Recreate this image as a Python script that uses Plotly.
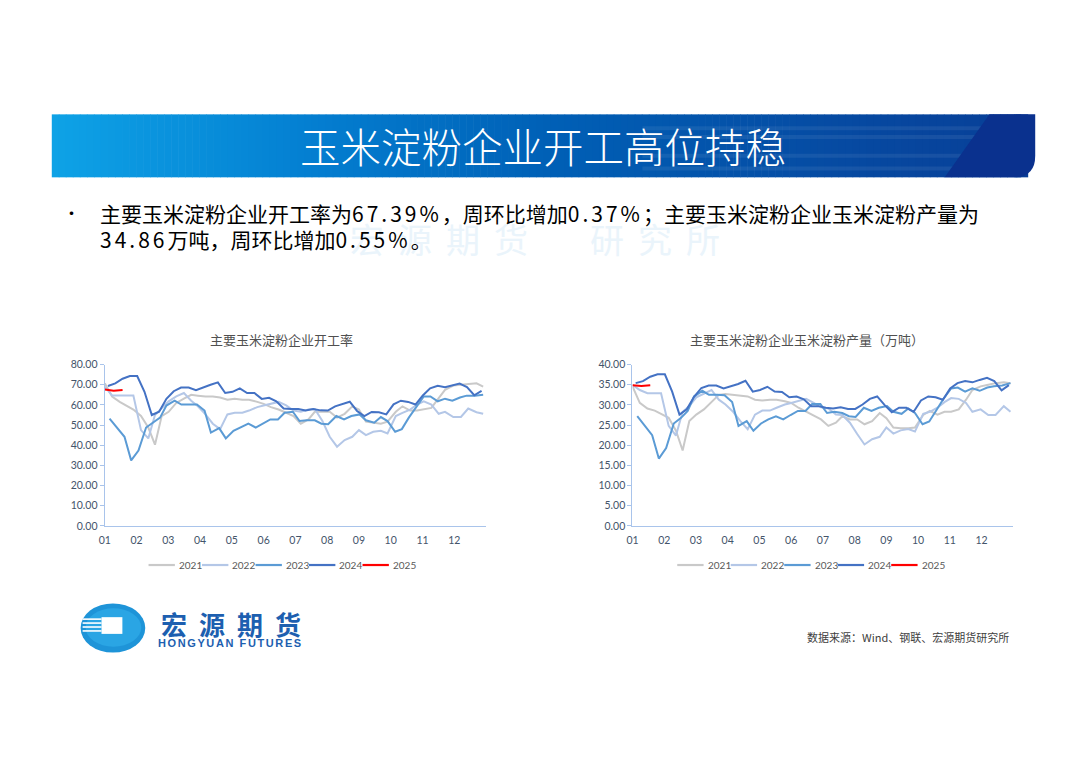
import plotly.graph_objects as go

# ---------------- data ----------------
months = ["01", "02", "03", "04", "05", "06", "07", "08", "09", "10", "11", "12"]
years = ["2021", "2022", "2023", "2024", "2025"]

# week positions (in months from Jan 1) for each year's weekly series
weeks_2021_2022 = [0, 0.23, 0.47, 0.7, 0.9, 1.14, 1.37, 1.58, 1.79, 2.01, 2.25, 2.49, 2.72, 2.93,
                   3.17, 3.4, 3.63, 3.86, 4.09, 4.33, 4.54, 4.8, 5.0, 5.23, 5.47, 5.71, 5.94,
                   6.17, 6.41, 6.61, 6.85, 7.08, 7.31, 7.55, 7.79, 8.0, 8.22, 8.45, 8.69, 8.9,
                   9.16, 9.37, 9.61, 9.83, 10.04, 10.28, 10.51, 10.71, 10.97, 11.21, 11.44, 11.7, 11.91]
weeks_2023 = [0.15, 0.38, 0.62, 0.83, 1.06, 1.3, 1.53, 1.74, 1.94, 2.2, 2.41, 2.67, 2.9, 3.14,
              3.34, 3.6, 3.81, 4.05, 4.28, 4.52, 4.75, 4.98, 5.21, 5.45, 5.66, 5.92, 6.13, 6.36,
              6.61, 6.82, 7.03, 7.29, 7.53, 7.76, 8.02, 8.22, 8.48, 8.69, 8.9, 9.14, 9.35, 9.57,
              9.78, 10.04, 10.25, 10.48, 10.71, 10.94, 11.18, 11.39, 11.65, 11.91]
weeks_2024 = [0.1, 0.33, 0.56, 0.79, 1.02, 1.25, 1.48, 1.71, 1.94, 2.17, 2.4, 2.64, 2.87, 3.1,
              3.33, 3.56, 3.79, 4.02, 4.25, 4.48, 4.71, 4.94, 5.17, 5.4, 5.63, 5.86, 6.09, 6.32,
              6.56, 6.79, 7.02, 7.25, 7.48, 7.71, 7.94, 8.17, 8.4, 8.63, 8.86, 9.09, 9.32, 9.55,
              9.78, 10.01, 10.24, 10.48, 10.71, 10.94, 11.17, 11.4, 11.63, 11.86]
weeks_2025 = [0.0, 0.28, 0.56]

# 主要玉米淀粉企业开工率 (%)
rate_2021 = [70.7, 64.2, 61.5, 59.3, 57.7, 54.5, 48.8, 40.3, 54.5, 56.6, 61.0, 63.1, 65.0, 64.6,
             64.2, 64.2, 63.7, 62.6, 63.1, 62.6, 62.6, 61.5, 60.5, 58.9, 57.7, 56.1, 54.5, 50.7,
             52.8, 56.6, 56.6, 56.6, 53.7, 55.6, 59.3, 57.7, 51.7, 51.2, 50.7, 51.7, 56.6, 59.3,
             57.2, 57.2, 57.7, 58.5, 63.4, 67.5, 69.6, 69.9, 70.2, 70.7, 69.1]
rate_2022 = [69.1, 64.7, 64.7, 64.7, 64.7, 47.5, 43.4, 55.0, 58.2, 61.8, 64.2, 65.9, 62.1, 59.3,
             55.3, 50.7, 48.0, 55.3, 56.1, 56.1, 57.2, 58.9, 59.7, 60.5, 61.5, 59.8, 57.2, 56.6,
             57.7, 58.0, 52.0, 44.2, 39.3, 42.6, 44.2, 47.5, 45.0, 46.7, 47.2, 45.9, 54.5, 56.1,
             57.7, 60.2, 61.8, 60.2, 55.6, 56.6, 54.0, 54.0, 58.2, 56.4, 55.6]
rate_2023 = [53.2, 48.8, 44.2, 32.5, 37.4, 48.8, 51.2, 53.7, 59.7, 62.1, 60.2, 60.2, 60.2, 57.2,
             46.3, 48.5, 43.4, 47.2, 49.1, 50.7, 48.8, 50.7, 52.8, 52.8, 56.1, 56.6, 52.0, 52.4,
             52.4, 50.7, 50.4, 54.5, 52.8, 54.5, 55.3, 52.4, 51.2, 54.0, 52.0, 46.7, 48.0, 53.7,
             58.5, 64.2, 64.2, 61.8, 63.1, 62.1, 63.7, 64.6, 64.6, 65.0]
rate_2024 = [69.4, 70.7, 73.0, 74.3, 74.3, 66.5, 55.0, 56.6, 63.0, 66.8, 68.6, 68.6, 67.3, 68.8,
             70.0, 71.2, 65.9, 66.5, 68.2, 65.9, 65.9, 63.0, 63.5, 61.8, 58.2, 58.0, 58.0, 57.2,
             58.0, 57.3, 57.2, 59.3, 60.5, 61.6, 57.0, 54.5, 56.5, 56.4, 55.3, 60.3, 62.1, 61.5,
             60.2, 64.7, 68.2, 69.5, 68.8, 69.8, 70.6, 68.8, 64.8, 67.0]
rate_2025 = [67.7, 67.02, 67.39]

# 主要玉米淀粉企业玉米淀粉产量 (万吨)
output_2021 = [34.6, 30.5, 29.1, 28.6, 27.8, 26.8, 23.6, 18.7, 26.0, 27.6, 28.9, 30.7, 32.5, 32.7,
               32.5, 32.4, 32.1, 31.3, 31.1, 31.3, 31.3, 30.9, 30.5, 29.3, 28.3, 27.2, 26.4, 24.8,
               25.6, 27.2, 26.4, 26.4, 25.2, 26.0, 28.0, 26.7, 24.4, 24.2, 24.2, 24.4, 27.5, 28.5,
               27.6, 28.3, 28.3, 28.9, 31.3, 33.7, 34.6, 35.0, 35.4, 35.6, 35.4]
output_2022 = [35.0, 33.7, 32.9, 32.9, 32.9, 24.8, 22.4, 28.3, 29.7, 31.9, 32.9, 33.7, 31.3, 30.1,
               28.3, 26.0, 24.0, 27.6, 28.6, 28.6, 29.3, 30.1, 30.5, 30.9, 31.5, 30.5, 29.4, 29.1,
               27.6, 27.5, 25.6, 22.8, 20.2, 21.5, 22.1, 24.4, 22.9, 23.7, 24.0, 23.4, 27.8, 28.3,
               29.3, 30.7, 31.7, 31.5, 30.5, 28.3, 28.9, 27.5, 27.5, 29.7, 28.3]
output_2023 = [27.2, 24.8, 22.5, 16.7, 19.3, 25.4, 26.8, 28.5, 32.1, 33.5, 32.5, 32.5, 32.4, 30.7,
               24.8, 26.0, 23.6, 25.4, 26.4, 27.2, 26.4, 27.5, 28.5, 28.5, 30.2, 30.2, 28.0, 28.3,
               28.0, 27.2, 27.0, 29.3, 28.5, 29.3, 29.7, 28.3, 27.8, 29.1, 28.0, 25.2, 25.9, 28.6,
               31.3, 34.1, 34.3, 33.3, 34.1, 33.5, 34.3, 34.6, 34.8, 35.4]
output_2024 = [35.4, 35.9, 37.0, 37.6, 37.6, 33.3, 27.6, 28.9, 32.0, 34.2, 34.8, 34.8, 34.1, 34.7,
               35.2, 36.0, 33.3, 33.7, 34.5, 33.3, 33.2, 31.9, 32.1, 31.4, 29.7, 29.7, 29.3, 29.1,
               29.4, 29.0, 29.0, 30.1, 31.5, 32.1, 30.0, 28.2, 29.3, 29.3, 28.3, 31.1, 32.1, 31.9,
               31.3, 34.1, 35.4, 35.9, 35.6, 36.2, 36.7, 35.9, 33.6, 34.9]
output_2025 = [34.9, 34.67, 34.86]

chart1_title = "主要玉米淀粉企业开工率"
chart2_title = "主要玉米淀粉企业玉米淀粉产量（万吨）"
page_title = "玉米淀粉企业开工高位持稳"
bullet_text1a = "主要玉米淀粉企业开工率为"
bullet_num1 = "67.39%"
bullet_text1b = "，周环比增加"
bullet_num2 = "0.37%"
bullet_text1c = "；主要玉米淀粉企业玉米淀粉产量为"
bullet_num3 = "34.86"
bullet_text2a = "万吨，周环比增加"
bullet_num4 = "0.55%"
bullet_text2b = "。"
source_text = "数据来源：Wind、钢联、宏源期货研究所"
logo_cn = "宏源期货"
logo_en = "HONGYUAN FUTURES"
watermark = "宏源期货\u3000研究所"

# ---------------- styling ----------------
# The page keeps the browser's default 8px body margin, so the figure is sized to fit
# the 1080x764 window exactly; coordinates below are given in window pixels.
PAGE_W, PAGE_H, OFF = 1080, 764, 8
W, H = PAGE_W - 2 * OFF, PAGE_H - 2 * OFF
def X(px):
    return (px - OFF) / W
def Y(py):
    return 1 - (py - OFF) / H

colors = {"2021": "#C9C9C9", "2022": "#B4C7E7", "2023": "#5B9BD5", "2024": "#4472C4", "2025": "#FF0000"}
CJK = "Noto Sans CJK SC"
TICKFONT = dict(family="Lato, Noto Sans CJK SC", size=10.5, color="#44546A")
AXIS_LINE = "#A9C4EB"

fig = go.Figure()

series1 = [("2021", weeks_2021_2022, rate_2021), ("2022", weeks_2021_2022, rate_2022),
           ("2023", weeks_2023, rate_2023), ("2024", weeks_2024, rate_2024),
           ("2025", weeks_2025, rate_2025)]
series2 = [("2021", weeks_2021_2022, output_2021), ("2022", weeks_2021_2022, output_2022),
           ("2023", weeks_2023, output_2023), ("2024", weeks_2024, output_2024),
           ("2025", weeks_2025, output_2025)]

for name, xs, ys in series1:
    fig.add_trace(go.Scatter(x=xs, y=ys, mode="lines", name=name, showlegend=False,
                             line=dict(color=colors[name], width=2), xaxis="x", yaxis="y"))
for name, xs, ys in series2:
    fig.add_trace(go.Scatter(x=xs, y=ys, mode="lines", name=name, showlegend=False,
                             line=dict(color=colors[name], width=2), xaxis="x2", yaxis="y2"))

def xaxis_cfg(domain, anchor):
    return dict(domain=domain, range=[0, 12], tickmode="array",
                tickvals=list(range(len(months))), ticktext=months,
                showline=True, linecolor=AXIS_LINE, linewidth=1.3, ticks="",
                ticklabelstandoff=4,
                showgrid=False, zeroline=False, tickfont=TICKFONT, anchor=anchor,
                fixedrange=True)

def yaxis_cfg(domain, anchor, top, step):
    return dict(domain=domain, range=[0, top], dtick=step, tick0=0, tickformat=".2f",
                showline=True, linecolor=AXIS_LINE, linewidth=1.3, ticks="outside",
                ticklen=4, tickcolor=AXIS_LINE, showgrid=False, zeroline=False,
                tickfont=TICKFONT, anchor=anchor, fixedrange=True)

ydom = [Y(528.3), Y(364.3)]

shapes = []
annotations = []

def text(t, x, y, size, color, family=CJK, xanchor="center", **kw):
    annotations.append(dict(text=t, x=X(x), y=Y(y), xref="paper", yref="paper",
                            showarrow=False, xanchor=xanchor, yanchor="middle",
                            font=dict(family=family, size=size, color=color, **kw)))

# ---- manual legends (one per chart) built from the series names ----
LEG_STEP, LEG_LINE = 53.8, 26.5
for start in (143.3, 675.0):
    for i, name in enumerate(years):
        x0 = start + i * LEG_STEP
        shapes.append(dict(type="line", xref="paper", yref="paper", x0=X(x0), x1=X(x0 + LEG_LINE),
                           y0=Y(568), y1=Y(568), line=dict(color=colors[name], width=2.2)))
        text(name, x0 + LEG_LINE + 2, 568, 10, "#595959", family="Lato", xanchor="left")

# ---- banner gradient ----
stops = [(0.0, (14, 162, 230)), (0.25, (4, 128, 210)), (0.5, (0, 96, 182)),
         (0.8, (6, 74, 162)), (1.0, (8, 62, 150))]
def grad(t):
    for (t0, c0), (t1, c1) in zip(stops[:-1], stops[1:]):
        if t0 <= t <= t1:
            f = (t - t0) / (t1 - t0)
            return "rgb(%d,%d,%d)" % tuple(round(a + (b - a) * f) for a, b in zip(c0, c1))
    return "rgb(%d,%d,%d)" % stops[-1][1]

bx0, bx1, by0, by1 = 46, 1035, 110, 174
N = 140
for i in range(N):
    xa = bx0 + (bx1 - bx0) * i / N
    xb = bx0 + (bx1 - bx0) * (i + 1) / N + 0.6
    shapes.append(dict(type="rect", xref="paper", yref="paper", x0=X(xa), x1=X(min(xb, bx1 - 20)),
                       y0=Y(by1), y1=Y(by0), fillcolor=grad(i / N), line=dict(width=0), layer="below"))
for sy in [124, 133, 152, 165]:
    shapes.append(dict(type="line", xref="paper", yref="paper", x0=X(640), x1=X(990),
                       y0=Y(sy), y1=Y(sy), line=dict(color="rgba(255,255,255,0.07)", width=4),
                       layer="below"))
p = lambda px, py: "%.5f,%.5f" % (X(px), Y(py))
navy_path = ("M " + p(989, 110) + " L " + p(1035, 110) + " L " + p(1035, 152) +
             " Q " + p(1035, 174) + " " + p(1013, 174) + " L " + p(944, 174) + " Z")
shapes.append(dict(type="path", xref="paper", yref="paper", path=navy_path,
                   fillcolor="#0A318E", line=dict(width=0), layer="below"))
text(page_title, 540, 142, 40.5, "white", weight=300)

# ---- watermark ----
text('<span style="letter-spacing:14px">' + watermark + '</span>', 539, 236, 34, "#EAF4FB")

# ---- bullet text ----
NUM = '<span style="letter-spacing:3px">%s</span>'
text("•", 66, 210, 17, "black")
text(bullet_text1a + NUM % bullet_num1 + bullet_text1b + NUM % bullet_num2 + bullet_text1c,
     92, 210, 21, "black", xanchor="left")
text(NUM % bullet_num3 + bullet_text2a + NUM % bullet_num4 + bullet_text2b,
     92, 237, 21, "black", xanchor="left")

# ---- chart titles ----
text(chart1_title, 277, 339, 13, "#505050")
text(chart2_title, 805, 339, 13, "#505050")

# ---- logo ----
shapes.append(dict(type="circle", xref="paper", yref="paper", x0=X(75), x1=X(140), y0=Y(657), y1=Y(607),
                   fillcolor="#1E94D8", line=dict(width=0)))
shapes.append(dict(type="circle", xref="paper", yref="paper", x0=X(80), x1=X(136), y0=Y(651), y1=Y(612),
                   fillcolor="#2AA5E4", line=dict(width=0)))
for sy in [623, 627, 631, 635]:
    shapes.append(dict(type="line", xref="paper", yref="paper", x0=X(77), x1=X(96), y0=Y(sy), y1=Y(sy),
                       line=dict(color="white", width=1.6)))
shapes.append(dict(type="rect", xref="paper", yref="paper", x0=X(96), x1=X(117), y0=Y(638), y1=Y(621),
                   fillcolor="white", line=dict(width=0)))
text('<b><span style="letter-spacing:12px">' + logo_cn + '</span></b>', 232, 627, 26, "#1D5FB0")
text('<b><span style="letter-spacing:1.6px">' + logo_en + '</span></b>', 226, 647, 11,
     "#1D5FB0", family="Liberation Sans")

# ---- source ----
text(source_text, 1011, 641, 11, "#404040", xanchor="right")

fig.update_layout(
    width=W, height=H, margin=dict(l=0, r=0, t=0, b=0),
    paper_bgcolor="white", plot_bgcolor="white",
    xaxis=xaxis_cfg([X(99.3), X(482.7)], "y"),
    yaxis=yaxis_cfg(ydom, "x", 80, 10),
    xaxis2=xaxis_cfg([X(630), X(1013)], "y2"),
    yaxis2=yaxis_cfg(ydom, "x2", 40, 5),
    showlegend=False,
    shapes=shapes, annotations=annotations,
    hovermode=False,
)

fig.write_html("out.html", config={"displayModeBar": False})
